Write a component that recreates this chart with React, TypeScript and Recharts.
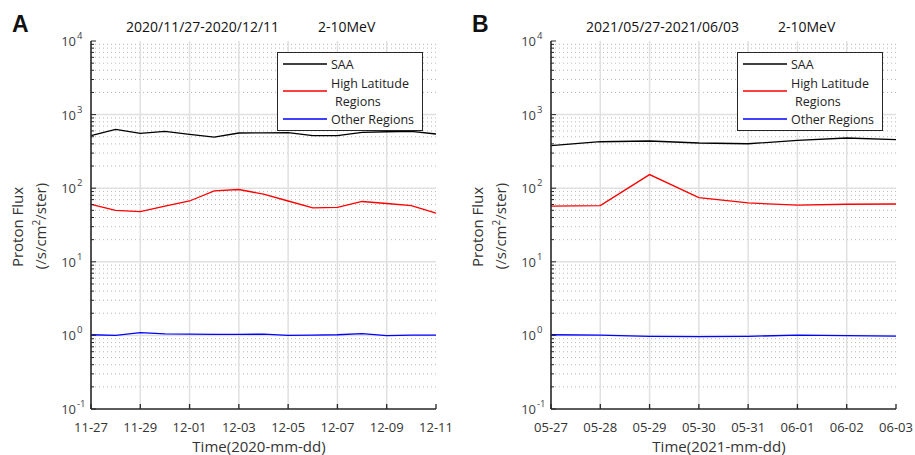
import React from "react";
import { LineChart, Line, XAxis, YAxis, ReferenceLine, Legend } from "recharts";

// panel A: 2020/11/27 - 2020/12/11, daily
const datesA = ["11-27", "11-28", "11-29", "11-30", "12-01", "12-02", "12-03", "12-04", "12-05", "12-06", "12-07", "12-08", "12-09", "12-10", "12-11"];
const saaA = [518, 630, 556, 592, 539, 495, 562, 565, 570, 518, 518, 574, 585, 590, 545];
const highLatA = [60.5, 50, 48, 57, 67, 92, 96, 83, 67, 54, 55, 66, 62, 58, 46];
const otherA = [1.02, 1.0, 1.09, 1.05, 1.04, 1.03, 1.03, 1.04, 1.0, 1.01, 1.02, 1.06, 0.99, 1.01, 1.01];

// panel B: 2021/05/27 - 2021/06/03, daily
const datesB = ["05-27", "05-28", "05-29", "05-30", "05-31", "06-01", "06-02", "06-03"];
const saaB = [378, 428, 438, 411, 402, 446, 481, 456];
const highLatB = [57, 58, 153, 74.5, 63, 59, 60.5, 61];
const otherB = [1.02, 1.01, 0.97, 0.96, 0.97, 1.01, 0.99, 0.98];

const decades = [-1, 0, 1, 2, 3, 4];
const minorSteps = [2, 3, 4, 5, 6, 7, 8, 9];

const majorTicks = decades.map((e) => Math.pow(10, e));
const minorTicks = decades.slice(0, -1).flatMap((e) => minorSteps.map((m) => m * Math.pow(10, e)));
const allYTicks = [...majorTicks, ...minorTicks].sort((a, b) => a - b);

const FONT = "'Open Sans', sans-serif";
const AXIS = "#262626";

const isMajor = (v: number) => Math.abs(Math.log10(v) - Math.round(Math.log10(v))) < 1e-6;

const YTick = (props: any) => {
  const { x, y, payload, side } = props;
  const v = payload.value;
  const major = isMajor(v);
  const dir = side === "left" ? 1 : -1;
  const len = major ? 5 : 3;
  return (
    <g>
      <line x1={x} x2={x + dir * len} y1={y} y2={y} stroke={AXIS} strokeWidth={1} />
      {major && side === "left" && (
        <text x={x - 15} y={y + 5} textAnchor="end" fontSize={13} fill="#404040">
          10
        </text>
      )}
      {major && side === "left" && (
        <text x={x - 14} y={y - 2} textAnchor="start" fontSize={9.5} fill="#404040">
          {Math.round(Math.log10(v))}
        </text>
      )}
    </g>
  );
};

const XTick = (props: any) => {
  const { x, y, payload, side } = props;
  if (side === "top") {
    return <line x1={x} x2={x} y1={y} y2={y + 5} stroke={AXIS} strokeWidth={1.3} />;
  }
  return (
    <g>
      <line x1={x} x2={x} y1={y} y2={y - 5} stroke={AXIS} strokeWidth={1.3} />
      <text x={x} y={y + 23} textAnchor="middle" fontSize={13} fill="#333">
        {payload.value}
      </text>
    </g>
  );
};

// legend rows, keyed by series name
const legendRows: Record<string, { lineY: number; texts: { t: string; y: number; dx: number }[] }> = {
  SAA: { lineY: 12, texts: [{ t: "SAA", y: 17, dx: 0 }] },
  "High Latitude Regions": { lineY: 39, texts: [{ t: "High Latitude", y: 36, dx: 0 }, { t: "Regions", y: 54, dx: 4 }] },
  "Other Regions": { lineY: 67, texts: [{ t: "Other Regions", y: 72, dx: 0 }] },
};

const LegendBox = (props: any) => {
  const { payload } = props;
  return (
    <svg width={146} height={79} style={{ display: "block" }}>
      <rect x={0.5} y={0.5} width={145} height={78} fill="#fff" stroke={AXIS} strokeWidth={1} />
      {(payload || []).map((entry: any) => {
        const row = legendRows[entry.value];
        if (!row) return null;
        return (
          <g key={entry.value}>
            <line x1={6} x2={50} y1={row.lineY} y2={row.lineY} stroke={entry.color} strokeWidth={1.3} />
            {row.texts.map((r) => (
              <text key={r.t} x={54 + r.dx} y={r.y} fontSize={12.5} fill="#222" fontFamily={FONT}>
                {r.t}
              </text>
            ))}
          </g>
        );
      })}
    </svg>
  );
};

type PanelProps = {
  dates: string[];
  saa: number[];
  highLat: number[];
  other: number[];
  interval: number;
  majorDates: string[];
};

function Panel({ dates, saa, highLat, other, interval, majorDates }: PanelProps) {
  const data = dates.map((d, i) => ({ date: d, saa: saa[i], high: highLat[i], other: other[i] }));
  return (
    <LineChart width={460} height={455} data={data} margin={{ top: 41, right: 24, left: 51, bottom: 16 }}>
      {minorTicks.map((v) => (
        <ReferenceLine key={"m" + v} y={v} yAxisId="l" xAxisId="b" stroke="#b8b8b8" strokeDasharray="1 3" strokeWidth={1} zIndex={-50} />
      ))}
      {majorTicks.slice(1, -1).map((v) => (
        <ReferenceLine key={"M" + v} y={v} yAxisId="l" xAxisId="b" stroke="#e0e0e0" strokeWidth={1.5} zIndex={-40} />
      ))}
      {majorDates.slice(1, -1).map((d) => (
        <ReferenceLine key={d} x={d} yAxisId="l" xAxisId="b" stroke="#e0e0e0" strokeWidth={1.5} zIndex={-40} />
      ))}
      <XAxis
        xAxisId="b"
        dataKey="date"
        scale="point"
        interval={interval}
        height={30}
        tickSize={0}
        tickMargin={0}
        axisLine={{ stroke: AXIS, strokeWidth: 1.6 }}
        tick={<XTick side="bottom" />}
      />
      <XAxis
        xAxisId="t"
        dataKey="date"
        scale="point"
        orientation="top"
        interval={interval}
        height={0}
        tickSize={0}
        tickMargin={0}
        axisLine={{ stroke: AXIS, strokeWidth: 1.6 }}
        tick={<XTick side="top" />}
      />
      <YAxis
        yAxisId="l"
        type="number"
        scale="log"
        domain={[0.1, 10000]}
        allowDataOverflow
        ticks={allYTicks}
        interval={0}
        width={40}
        tickSize={0}
        tickMargin={0}
        axisLine={{ stroke: AXIS, strokeWidth: 1.6 }}
        tick={<YTick side="left" />}
      />
      <YAxis
        yAxisId="r"
        orientation="right"
        type="number"
        scale="log"
        domain={[0.1, 10000]}
        allowDataOverflow
        ticks={allYTicks}
        interval={0}
        width={0}
        tickSize={0}
        tickMargin={0}
        axisLine={{ stroke: AXIS, strokeWidth: 1.6 }}
        tick={<YTick side="right" />}
      />
      <Line xAxisId="b" yAxisId="l" type="linear" dataKey="saa" name="SAA" stroke="#000000" strokeWidth={1.3} dot={false} isAnimationActive={false} />
      <Line xAxisId="b" yAxisId="l" type="linear" dataKey="high" name="High Latitude Regions" stroke="#ff0000" strokeWidth={1.3} dot={false} isAnimationActive={false} />
      <Line xAxisId="b" yAxisId="l" type="linear" dataKey="other" name="Other Regions" stroke="#0000ff" strokeWidth={1.3} dot={false} isAnimationActive={false} />
      <Legend
        layout="vertical"
        align="center"
        verticalAlign="middle"
        content={<LegendBox />}
        wrapperStyle={{ left: 277, top: 52, width: 146, height: 79 }}
      />
    </LineChart>
  );
}

function Labels({ dx, letter, range, year }: { dx: number; letter: string; range: string; year: string }) {
  return (
    <svg width={460} height={455} style={{ position: "absolute", left: dx, top: 0, pointerEvents: "none" }}>
      <text x={12} y={31.5} fontSize={23} fontWeight="bold" fontFamily="'Liberation Sans', Arial, sans-serif" fill="#111">
        {letter}
      </text>
      <text x={126} y={32} fontSize={14} fill="#111">
        {range}
      </text>
      <text x={318} y={32} fontSize={14} fill="#111">
        2-10MeV
      </text>
      <text transform="translate(23,227) rotate(-90)" textAnchor="middle" fontSize={15} fill="#333">
        Proton Flux
      </text>
      <text transform="translate(46,226) rotate(-90)" textAnchor="middle" fontSize={15} fill="#333">
        (/s/cm
        <tspan fontSize={10} dy={-6}>2</tspan>
        <tspan dy={6}>/ster)</tspan>
      </text>
      <text x={259} y={452} textAnchor="middle" fontSize={15} fill="#333">
        {`Time(${year}-mm-dd)`}
      </text>
    </svg>
  );
}

export default function App() {
  return (
    <div style={{ position: "absolute", left: 0, top: 0, width: 915, height: 455, background: "#fff", fontFamily: FONT }}>
      <div style={{ position: "absolute", left: 0, top: 0 }}>
        <Panel dates={datesA} saa={saaA} highLat={highLatA} other={otherA} interval={1} majorDates={datesA.filter((_, i) => i % 2 === 0)} />
      </div>
      <div style={{ position: "absolute", left: 460, top: 0 }}>
        <Panel dates={datesB} saa={saaB} highLat={highLatB} other={otherB} interval={0} majorDates={datesB} />
      </div>
      <Labels dx={0} letter="A" range="2020/11/27-2020/12/11" year="2020" />
      <Labels dx={460} letter="B" range="2021/05/27-2021/06/03" year="2021" />
    </div>
  );
}
